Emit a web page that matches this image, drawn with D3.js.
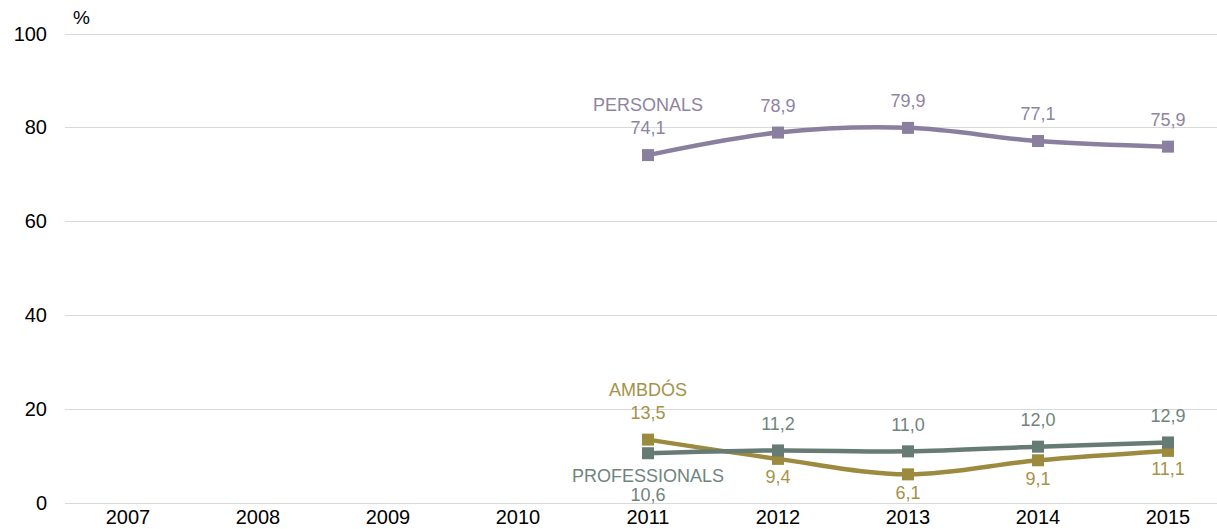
<!DOCTYPE html>
<html>
<head>
<meta charset="utf-8">
<script src="https://cdn.jsdelivr.net/npm/d3@7"></script>
<style>
  body { margin: 0; background: #fff; }
  svg { display: block; font-family: "Liberation Sans", Arial, sans-serif; }
</style>
</head>
<body>
<div id="rootDiv"></div>
<script>
const width = 1217
const height = 529

const years = ["2007", "2008", "2009", "2010", "2011", "2012", "2013", "2014", "2015"]
const yTicks = [0, 20, 40, 60, 80, 100]

const personals = [null, null, null, null, 74.1, 78.9, 79.9, 77.1, 75.9]
const professionals = [null, null, null, null, 10.6, 11.2, 11.0, 12.0, 12.9]
const ambdos = [null, null, null, null, 13.5, 9.4, 6.1, 9.1, 11.1]

const seriesNames = ["PERSONALS", "PROFESSIONALS", "AMBDÓS"]

// where each value label sits: -1 above the point, 1 below
const personalsSide = [0, 0, 0, 0, -1, -1, -1, -1, -1]
const professionalsSide = [0, 0, 0, 0, 1, -1, -1, -1, -1]
const ambdosSide = [0, 0, 0, 0, -1, 1, 1, 1, 1]

const series = [
    { name: seriesNames[0], values: personals, side: personalsSide, color: "#8a7f9e", text: "#8e84a2", nameSide: -1 },
    { name: seriesNames[1], values: professionals, side: professionalsSide, color: "#667b74", text: "#6f847e", nameSide: 1 },
    { name: seriesNames[2], values: ambdos, side: ambdosSide, color: "#9c8a3f", text: "#a59248", nameSide: -1 },
]

const svg = d3.select("#rootDiv")
    .append("svg")
    .attr("width", width)
    .attr("height", height)

const x = d3.scalePoint()
    .domain(years)
    .range([128, 1168])

const y = d3.scaleLinear()
    .domain([0, 100])
    .range([503, 33.5])

const gridLeft = 65
const gridRight = width

// gridlines
svg.append("g")
    .selectAll("line")
    .data(yTicks)
    .enter()
    .append("line")
    .attr("x1", gridLeft)
    .attr("x2", gridRight)
    .attr("y1", d => Math.round(y(d)) + 0.5)
    .attr("y2", d => Math.round(y(d)) + 0.5)
    .attr("stroke", "#d9d9d9")
    .attr("stroke-width", 1)

// y labels
svg.append("g")
    .selectAll("text")
    .data(yTicks)
    .enter()
    .append("text")
    .attr("x", 47)
    .attr("y", d => y(d))
    .attr("dy", "0.35em")
    .attr("text-anchor", "end")
    .attr("font-size", 20)
    .attr("fill", "#000")
    .text(d => d)

svg.append("text")
    .attr("x", 73)
    .attr("y", 24)
    .attr("font-size", 19)
    .attr("fill", "#000")
    .text("%")

// x labels
svg.append("g")
    .selectAll("text")
    .data(years)
    .enter()
    .append("text")
    .attr("x", d => x(d))
    .attr("y", 524)
    .attr("text-anchor", "middle")
    .attr("font-size", 20)
    .attr("fill", "#000")
    .text(d => d)

const line = d3.line()
    .defined(d => d[1] !== null)
    .x(d => x(d[0]))
    .y(d => y(d[1]))
    .curve(d3.curveCatmullRom.alpha(0.5))

const fmt = v => v.toFixed(1).replace(".", ",")

// draw order: personals, ambdos, professionals on top
const drawOrder = [series[0], series[2], series[1]]
for (const s of drawOrder) {
    const pts = years.map((yr, i) => [yr, s.values[i]]).filter(d => d[1] !== null)
    svg.append("path")
        .attr("d", line(pts))
        .attr("fill", "none")
        .attr("stroke", s.color)
        .attr("stroke-width", 4.5)
        .attr("stroke-linejoin", "round")

    svg.append("g")
        .selectAll("rect")
        .data(pts)
        .enter()
        .append("rect")
        .attr("x", d => x(d[0]) - 6)
        .attr("y", d => y(d[1]) - 6)
        .attr("width", 12)
        .attr("height", 12)
        .attr("fill", s.color)
}

// value labels
for (const s of series) {
    years.forEach((yr, i) => {
        const v = s.values[i]
        if (v === null) return
        const py = y(v)
        let cy
        if (s.side[i] < 0) cy = py - 27
        else cy = py + 18
        if (i === 4 && s.nameSide > 0) cy = py + 41
        svg.append("text")
            .attr("x", x(yr))
            .attr("y", cy)
            .attr("dy", "0.35em")
            .attr("text-anchor", "middle")
            .attr("font-size", 18)
            .attr("fill", s.text)
            .text(fmt(v))
    })
    // series name near the first point
    const first = s.values.findIndex(v => v !== null)
    const py = y(s.values[first])
    svg.append("text")
        .attr("x", x(years[first]))
        .attr("y", s.nameSide < 0 ? py - 50 : py + 22)
        .attr("dy", "0.35em")
        .attr("text-anchor", "middle")
        .attr("font-size", 18)
        .attr("fill", s.text)
        .text(s.name)
}
</script>
</body>
</html>
